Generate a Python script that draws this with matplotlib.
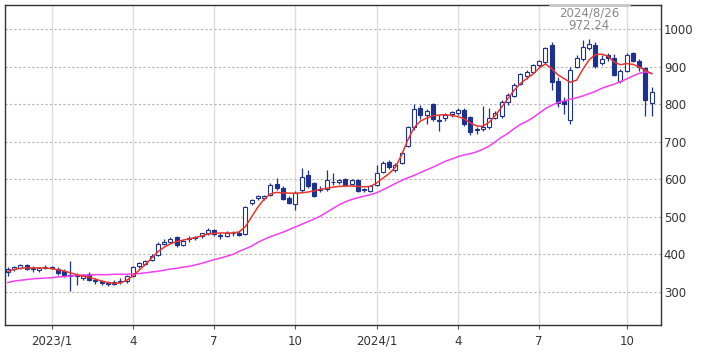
import numpy as np
import pandas as pd
import matplotlib
matplotlib.use("Agg")
import matplotlib.pyplot as plt

# ---------- data (weekly candles) ----------
week_start = "2022-11-14"
n_weeks = 104

opens = [352, 362, 364, 372, 364, 358, 364, 366, 362, 356,
         346, 344, 338, 347, 332, 328, 324, 322, 327, 328,
         343, 368, 375, 386, 398, 428, 434, 446, 426, 440,
         444, 448, 458, 466, 452, 450, 456, 458, 455, 536,
         549, 550, 558, 588, 578, 550, 533, 572, 612, 590,
         572, 574, 592, 592, 600, 588, 598, 572, 570, 585,
         620, 645, 626, 643, 688, 738, 790, 770, 800, 758,
         762, 774, 776, 785, 765, 730, 734, 740, 764, 768,
         806, 822, 853, 874, 886, 905, 913, 957, 862, 808,
         758, 898, 920, 950, 958, 910, 931, 922, 862, 888,
         936, 916, 895, 804]
highs = [366, 370, 374, 375, 368, 366, 372, 370, 366, 360,
         382, 350, 348, 352, 336, 332, 328, 332, 336, 346,
         370, 380, 386, 400, 432, 440, 446, 450, 438, 448,
         450, 458, 470, 468, 458, 462, 462, 462, 530, 548,
         558, 558, 590, 603, 582, 555, 568, 630, 625, 594,
         582, 625, 616, 602, 604, 600, 600, 578, 584, 638,
         648, 652, 642, 674, 742, 800, 798, 786, 804, 772,
         776, 782, 790, 790, 768, 740, 794, 790, 782, 812,
         830, 856, 884, 892, 906, 918, 953, 966, 872, 818,
         898, 930, 970, 972.24, 966, 930, 936, 934, 894, 936,
         940, 920, 900, 846]
lows = [343, 356, 360, 358, 352, 354, 360, 360, 345, 340,
        302, 318, 332, 328, 322, 318, 315, 318, 322, 325,
        340, 364, 371, 382, 395, 424, 430, 420, 422, 432,
        438, 444, 452, 450, 440, 446, 450, 450, 452, 532,
        545, 546, 555, 572, 545, 535, 519, 565, 578, 552,
        565, 570, 585, 588, 584, 584, 566, 566, 566, 582,
        616, 628, 620, 640, 685, 730, 760, 748, 755, 728,
        756, 766, 770, 742, 718, 720, 728, 735, 760, 764,
        798, 818, 850, 868, 882, 900, 908, 838, 792, 773,
        746, 895, 914, 944, 896, 904, 915, 875, 856, 885,
        912, 888, 768, 768]
closes = [360, 366, 372, 362, 360, 364, 366, 365, 350, 342,
          342, 342, 345, 331, 328, 325, 321, 327, 330, 343,
          367, 376, 382, 396, 428, 434, 442, 425, 436, 444,
          446, 456, 464, 455, 450, 458, 457, 452, 527, 546,
          556, 556, 585, 577, 548, 538, 564, 606, 582, 556,
          574, 597, 594, 598, 586, 597, 568, 574, 582, 616,
          643, 632, 638, 670, 738, 786, 770, 782, 760, 755,
          772, 778, 784, 746, 726, 734, 738, 762, 776, 806,
          824, 850, 880, 886, 904, 914, 949, 860, 802, 801,
          890, 922, 953, 960, 902, 921, 922, 878, 888, 932,
          914, 898, 812, 832]

# 13-week (red) and 26-week (magenta) moving averages
ma_short = [355, 360, 363, 364, 364, 364, 364, 362, 359, 356,
            351, 346, 342, 339, 334, 329, 325, 323, 324, 331,
            343, 358, 373, 390, 407, 419, 428, 434, 438, 441,
            445, 449, 454, 456, 457, 457, 457, 460, 474, 500,
            526, 547, 561, 565, 564, 563, 563, 564, 566, 569,
            573, 576, 579, 581, 582, 582, 581, 580, 581, 590,
            603, 615, 632, 665, 705, 738, 755, 763, 769, 771,
            772, 770, 767, 761, 750, 742, 741, 752, 770, 792,
            815, 837, 855, 868, 880, 896, 907, 895, 878, 868,
            858, 864, 893, 918, 932, 933, 928, 912, 905, 908,
            906, 899, 890, 881]
ma_long = [325, 329, 331, 333, 335, 336, 337, 338, 340, 341,
           342, 344, 345, 345, 346, 346, 346, 347, 347, 347,
           348, 349, 351, 353, 355, 358, 361, 363, 366, 368,
           372, 376, 381, 386, 390, 395, 400, 408, 415, 422,
           432, 440, 447, 453, 459, 466, 473, 480, 487, 494,
           502, 512, 522, 532, 540, 546, 551, 555, 559, 564,
           572, 580, 589, 597, 604, 610, 618, 625, 632, 640,
           648, 654, 660, 665, 668, 673, 680, 688, 700, 712,
           722, 735, 746, 754, 764, 776, 788, 797, 804, 809,
           813, 817, 822, 828, 834, 842, 848, 853, 860, 867,
           875, 882, 886, 882]

y_ticks = [300, 400, 500, 600, 700, 800, 900, 1000]
peak_label = "2024/8/26\n972.24"

# ---------- chart ----------
NAVY = "#1f3190"
dates = pd.date_range(week_start, periods=n_weeks, freq="W-MON")
idx = np.arange(n_weeks)
o = np.array(opens, float)
h = np.array(highs, float)
l = np.array(lows, float)
c = np.array(closes, float)

fig = plt.figure(figsize=(7.09, 3.54), dpi=100)
ax = fig.add_axes([4.5 / 709, 1 - 325 / 354, 656.5 / 709, 320 / 354])

ax.vlines(idx, l, h, color=NAVY, linewidth=0.9, zorder=3)
body_low = np.minimum(o, c)
body_h = np.maximum(np.abs(c - o), 1.5)
up = c >= o
ax.bar(idx[up], body_h[up], bottom=body_low[up], width=0.62,
       color="white", edgecolor=NAVY, linewidth=0.8, zorder=4)
ax.bar(idx[~up], body_h[~up], bottom=body_low[~up], width=0.62,
       color=NAVY, edgecolor=NAVY, linewidth=0.8, zorder=4)

ax.plot(idx, ma_long, color="#f23ff2", linewidth=1.1, zorder=5)
ax.plot(idx, ma_short, color="#e8352b", linewidth=1.1, zorder=5)

ax.set_xlim(-0.54, 104.5)
ax.set_ylim(212, 1064)

# month ticks at the first week of Jan/Apr/Jul/Oct
tick_pos, tick_lab = [], []
for i in range(1, n_weeks):
    m = dates[i].month
    if m != dates[i - 1].month and m in (1, 4, 7, 10):
        tick_pos.append(i)
        tick_lab.append(f"{dates[i].year}/1" if m == 1 else str(m))
ax.set_xticks(tick_pos)
ax.set_xticklabels(tick_lab)
ax.set_yticks(y_ticks)

ax.yaxis.tick_right()
ax.tick_params(axis="y", length=0, pad=2, labelsize=8.5, labelcolor="#333333")
ax.tick_params(axis="x", length=3, width=0.8, color="#555555", pad=4,
               labelsize=8.5, labelcolor="#333333")

ax.grid(axis="y", linestyle=(0, (2, 2)), color="#b5b5b5", linewidth=0.8)
ax.grid(axis="x", linestyle="-", color="#dddddd", linewidth=1.0)
ax.set_axisbelow(True)
for s in ax.spines.values():
    s.set_color("#333333")
    s.set_linewidth(1.0)

peak_i = int(np.argmax(h))
ax.text(peak_i, 1060, peak_label, ha="center", va="top", fontsize=8.5,
        color="#888888", linespacing=0.95, zorder=6)
ax.plot([peak_i - 6.3, peak_i + 6.3], [1064, 1064], color="#c8c8c8",
        linewidth=2.0, clip_on=False, zorder=7)

fig.savefig("out.png", dpi=100)
